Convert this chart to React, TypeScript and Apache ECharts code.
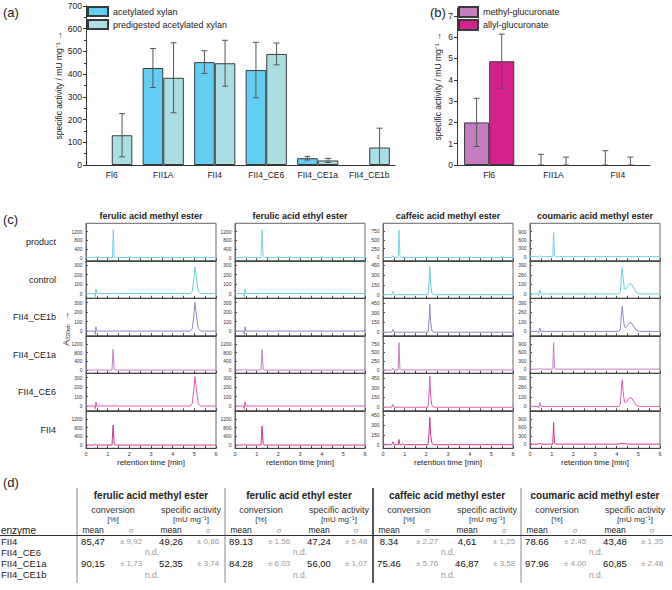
import React, { useEffect, useRef } from 'react';
import * as echarts from 'echarts';

const FONT = '"Liberation Sans", Arial, Helvetica, sans-serif';

// ---------- panel (a) ----------
const xylanEnzymes = ['Fl6', 'FII1A', 'FII4', 'FII4_CE6', 'FII4_CE1a', 'FII4_CE1b'];
const acetylatedXylan = [null, 427, 453, 418, 30, null];
const acetylatedXylanErr = [null, 86, 50, 122, 8, null];
const predigestedXylan = [131, 384, 448, 489, 20, 77];
const predigestedXylanErr = [95, 154, 101, 48, 9, 85];

// ---------- panel (b) ----------
const glucEnzymes = ['Fl6', 'FII1A', 'FII4'];
const methylGlucuronate = [2.0, null, null];
const methylGlucuronateErr = [1.13, 0.5, 0.67];
const allylGlucuronate = [4.87, null, null];
const allylGlucuronateErr = [1.27, 0.37, 0.37];
const glucTicks = [0, 1, 2, 3, 4, 5, 6, 7];

// ---------- panel (c) ----------
const compounds = ['ferulic acid methyl ester', 'ferulic acid ethyl ester', 'caffeic acid methyl ester', 'coumaric acid methyl ester'];
const traceRows = ['product', 'control', 'FII4_CE1b', 'FII4_CE1a', 'FII4_CE6', 'FII4'];
const timeTicks = [0, 1, 2, 3, 4, 5, 6];

const ferulicMethylTraces = [
  [[0, 0], [0.4, 0], [0.45, 30], [0.5, 0], [1.22, 0], [1.26, 1280], [1.3, 60], [1.36, 0], [6, 0]],
  [[0, 0], [0.4, 0], [0.43, -35], [0.46, 45], [0.5, 0], [1.3, 0], [1.32, 8], [1.36, 0], [4.8, 0], [4.9, 20], [4.97, 140], [5.03, 280], [5.1, 150], [5.18, 25], [5.3, 0], [6, 0]],
  [[0, 0], [0.4, 0], [0.43, -35], [0.46, 45], [0.5, 0], [1.3, 0], [1.32, 10], [1.36, 0], [4.8, 0], [4.9, 20], [4.97, 150], [5.03, 300], [5.1, 160], [5.18, 25], [5.3, 0], [6, 0]],
  [[0, 0], [0.4, 0], [0.45, 40], [0.5, 0], [1.2, 0], [1.25, 950], [1.3, 40], [1.36, 0], [6, 0]],
  [[0, 0], [0.4, 0], [0.43, -30], [0.46, 45], [0.5, 0], [1.3, 0], [1.32, 12], [1.36, 0], [4.8, 0], [4.9, 25], [4.97, 160], [5.03, 310], [5.1, 170], [5.18, 25], [5.3, 0], [6, 0]],
  [[0, 0], [0.4, 0], [0.45, 40], [0.5, 0], [1.2, 0], [1.25, 920], [1.3, 40], [1.36, 0], [6, 0]],
];
const ferulicEthylTraces = [
  [[0, 0], [0.4, 0], [0.45, 30], [0.5, 0], [1.2, 0], [1.25, 1280], [1.3, 60], [1.36, 0], [6, 0]],
  [[0, 0], [0.4, 0], [0.43, -35], [0.46, 45], [0.5, 0], [6, 0]],
  [[0, 0], [0.4, 0], [0.43, -35], [0.46, 45], [0.5, 0], [6, 0]],
  [[0, 0], [0.4, 0], [0.45, 30], [0.5, 0], [1.2, 0], [1.25, 940], [1.3, 40], [1.36, 0], [6, 0]],
  [[0, 0], [0.4, 0], [0.43, -35], [0.46, 45], [0.5, 0], [6, 0]],
  [[0, 0], [0.4, 0], [0.45, 30], [0.5, 0], [1.2, 0], [1.25, 880], [1.3, 40], [1.36, 0], [6, 0]],
];
const caffeicTraces = [
  [[0, 0], [0.4, 0], [0.45, 50], [0.5, 0], [0.7, 0], [0.74, 780], [0.78, 40], [0.84, 0], [6, 0]],
  [[0, 0], [0.4, 0], [0.45, 50], [0.5, 0], [2.08, 0], [2.13, 200], [2.16, 430], [2.2, 150], [2.26, 20], [2.35, 0], [6, 0]],
  [[0, 0], [0.4, 0], [0.45, 45], [0.5, 0], [2.08, 0], [2.13, 200], [2.16, 430], [2.2, 150], [2.26, 20], [2.35, 0], [6, 0]],
  [[0, 0], [0.4, 0], [0.45, 50], [0.5, 0], [0.7, 0], [0.74, 780], [0.78, 40], [0.84, 0], [6, 0]],
  [[0, 0], [0.4, 0], [0.45, 45], [0.5, 0], [2.08, 0], [2.13, 220], [2.16, 480], [2.2, 160], [2.26, 20], [2.35, 0], [6, 0]],
  [[0, 0], [0.4, 0], [0.45, 45], [0.5, 0], [0.7, 0], [0.74, 80], [0.78, 0], [0.86, 0], [0.9, 20], [0.95, 0], [2.08, 0], [2.13, 200], [2.16, 420], [2.2, 140], [2.26, 20], [2.35, 0], [6, 0]],
];
const coumaricTraces = [
  [[0, 0], [0.4, 0], [0.45, 40], [0.5, 0], [1.05, 0], [1.09, 880], [1.13, 40], [1.2, 0], [6, 0]],
  [[0, 0], [0.35, 0], [0.4, -25], [0.45, 55], [0.5, 0], [4.1, 0], [4.17, 30], [4.22, 250], [4.26, 360], [4.3, 200], [4.36, 70], [4.42, 60], [4.5, 100], [4.6, 140], [4.7, 130], [4.8, 70], [4.9, 20], [5.05, 0], [6, 0]],
  [[0, 0], [0.35, 0], [0.4, -20], [0.45, 45], [0.5, 0], [4.1, 0], [4.17, 30], [4.22, 240], [4.26, 340], [4.3, 190], [4.36, 60], [4.42, 50], [4.5, 85], [4.6, 120], [4.7, 110], [4.8, 60], [4.9, 15], [5.05, 0], [6, 0]],
  [[0, 0], [0.4, 0], [0.45, 30], [0.5, 0], [1.05, 0], [1.09, 950], [1.13, 40], [1.2, 0], [6, 0]],
  [[0, 0], [0.35, 0], [0.4, -20], [0.45, 50], [0.5, 0], [4.1, 0], [4.17, 30], [4.22, 250], [4.26, 360], [4.3, 200], [4.36, 60], [4.42, 50], [4.5, 85], [4.6, 120], [4.7, 110], [4.8, 60], [4.9, 15], [5.05, 0], [6, 0]],
  [[0, 0], [0.4, 0], [0.45, 40], [0.5, 0], [1.05, 0], [1.09, 780], [1.13, 40], [1.2, 0], [4.1, 0], [4.25, 40], [4.4, 10], [4.6, 0], [6, 0]],
];
const allTraces = [ferulicMethylTraces, ferulicEthylTraces, caffeicTraces, coumaricTraces];

const ferulicTopTicks = [1200, 300, 300, 1200, 300, 1200];
const caffeicTopTicks = [750, 450, 450, 750, 450, 450];
const coumaricTopTicks = [900, 390, 390, 900, 390, 900];
const allTopTicks = [ferulicTopTicks, ferulicTopTicks, caffeicTopTicks, coumaricTopTicks];

const ferulicRanges = [[-150, 1580], [-50, 345], [-50, 345], [-150, 1580], [-50, 345], [-150, 1580]];
const caffeicRanges = [[-95, 975], [-55, 520], [-55, 520], [-95, 975], [-55, 520], [-55, 520]];
const coumaricRanges = [[-150, 1200], [-60, 450], [-60, 450], [-150, 1200], [-60, 450], [-150, 1200]];
const allRanges = [ferulicRanges, ferulicRanges, caffeicRanges, coumaricRanges];

// ---------- panel (d) ----------
const tableEnzymes = ['FII4', 'FII4_CE6', 'FII4_CE1a', 'FII4_CE1b'];
const tableMeasures = ['conversion', 'specific activity'];
const tableUnits = ['[%]', '[mU mg⁻¹]'];
const tableStats = ['mean', 'σ', 'mean', 'σ'];
const fii4Values = ['85,47', '± 9,92', '49,26', '± 0,86', '89.13', '± 1.56', '47,24', '± 5,48', '8.34', '± 2.27', '4,61', '± 1,25', '78.66', '± 2.45', '43,48', '± 1,35'];
const ce1aValues = ['90,15', '± 1,73', '52,35', '± 3,74', '84.28', '± 6.03', '56,00', '± 1,07', '75.46', '± 5.76', '46,87', '± 3,58', '97.96', '± 4.00', '60,85', '± 2,48'];
const tableRowValues = [fii4Values, null, ce1aValues, null];

const rowColors = ['#74d2ec', '#6acfd6', '#8f88c8', '#c67cc6', '#e05ab4', '#d8308e'];

function errorSeries(axisIndex: number, values: any[], errs: any[], offset: number) {
  const data: any[] = [];
  errs.forEach((e, i) => {
    if (e != null) data.push([i, values[i] ?? 0, e]);
  });
  return {
    type: 'custom',
    xAxisIndex: axisIndex,
    yAxisIndex: axisIndex,
    silent: true,
    z: 10,
    encode: { x: 0, y: 1 },
    data,
    renderItem: (params: any, api: any) => {
      const i = api.value(0);
      const v = api.value(1);
      const e = api.value(2);
      const band = api.size([1, 0])[0];
      const cx = api.coord([i, v])[0] + offset * band;
      const yTop = api.coord([i, v + e])[1];
      const yBot = api.coord([i, Math.max(0, v - e)])[1];
      const style = { stroke: '#555', lineWidth: 1 };
      return {
        type: 'group',
        children: [
          { type: 'line', shape: { x1: cx, y1: yTop, x2: cx, y2: yBot }, style },
          { type: 'line', shape: { x1: cx - 3, y1: yTop, x2: cx + 3, y2: yTop }, style },
          { type: 'line', shape: { x1: cx - 3, y1: yBot, x2: cx + 3, y2: yBot }, style },
        ],
      };
    },
  };
}

function txt(x: number, y: number, text: string, size: number, opts: any = {}) {
  return {
    type: 'text',
    x,
    y,
    rotation: opts.rotation || 0,
    silent: true,
    style: {
      text,
      fontSize: size,
      fontFamily: FONT,
      fontWeight: opts.bold ? 'bold' : 'normal',
      fill: opts.color || '#222',
      align: opts.align || 'center',
      textAlign: opts.align || 'center',
      verticalAlign: 'middle',
      textVerticalAlign: 'middle',
    },
  };
}

function buildOption() {
  const grids: any[] = [];
  const xAxes: any[] = [];
  const yAxes: any[] = [];
  const series: any[] = [];
  const graphics: any[] = [];

  // ----- (a)
  grids.push({ left: 86, top: 6, width: 309, height: 159 });
  xAxes.push({
    gridIndex: 0, type: 'category', data: xylanEnzymes,
    axisLine: { lineStyle: { color: '#333', width: 1 } },
    axisTick: { show: false },
    axisLabel: { fontSize: 8.5, fontFamily: FONT, color: '#222', margin: 5, interval: 0 },
  });
  yAxes.push({
    gridIndex: 0, type: 'value', min: 0, max: 700, interval: 100,
    axisLine: { show: true, lineStyle: { color: '#333', width: 1 } },
    axisTick: { show: true, length: 3, lineStyle: { color: '#333' } },
    minorTick: { show: true, splitNumber: 2, length: 2, lineStyle: { color: '#333' } },
    splitLine: { show: false },
    axisLabel: { fontSize: 8.5, fontFamily: FONT, color: '#222', margin: 4 },
    name: 'specific activity / mU mg⁻¹ →', nameLocation: 'middle', nameGap: 23,
    nameTextStyle: { fontSize: 8.5, fontFamily: FONT, color: '#222' },
  });
  series.push({
    name: 'acetylated xylan', type: 'bar', xAxisIndex: 0, yAxisIndex: 0, data: acetylatedXylan,
    barWidth: '40%', barGap: '0%',
    itemStyle: { color: '#63cef4', borderColor: '#3a3a3a', borderWidth: 1 },
  });
  series.push({
    name: 'predigested acetylated xylan', type: 'bar', xAxisIndex: 0, yAxisIndex: 0, data: predigestedXylan,
    barWidth: '40%', barGap: '0%',
    itemStyle: { color: '#abdee2', borderColor: '#3a3a3a', borderWidth: 1 },
  });
  series.push(errorSeries(0, acetylatedXylan, acetylatedXylanErr, -0.2));
  series.push(errorSeries(0, predigestedXylan, predigestedXylanErr, 0.2));

  // ----- (b)
  grids.push({ left: 457, top: 8, width: 193, height: 157 });
  xAxes.push({
    gridIndex: 1, type: 'category', data: glucEnzymes,
    axisLine: { lineStyle: { color: '#333', width: 1 } },
    axisTick: { show: false },
    axisLabel: { fontSize: 8.5, fontFamily: FONT, color: '#222', margin: 5, interval: 0 },
  });
  yAxes.push({
    gridIndex: 1, type: 'value', min: 0, max: 7.37,
    axisLine: { show: true, lineStyle: { color: '#333', width: 1 } },
    axisTick: { show: true, length: 3, lineStyle: { color: '#333' }, customValues: glucTicks },
    splitLine: { show: false },
    axisLabel: { fontSize: 8.5, fontFamily: FONT, color: '#222', margin: 4, customValues: glucTicks },
    name: 'specific activity / mU mg⁻¹ →', nameLocation: 'middle', nameGap: 15,
    nameTextStyle: { fontSize: 8.5, fontFamily: FONT, color: '#222' },
  });
  series.push({
    name: 'methyl-glucuronate', type: 'bar', xAxisIndex: 1, yAxisIndex: 1, data: methylGlucuronate,
    barWidth: '39%', barGap: '0%',
    itemStyle: { color: '#c47dbf', borderColor: '#3a3a3a', borderWidth: 1 },
  });
  series.push({
    name: 'allyl-glucuronate', type: 'bar', xAxisIndex: 1, yAxisIndex: 1, data: allylGlucuronate,
    barWidth: '39%', barGap: '0%',
    itemStyle: { color: '#d3228c', borderColor: '#3a3a3a', borderWidth: 1 },
  });
  series.push(errorSeries(1, methylGlucuronate, methylGlucuronateErr, -0.195));
  series.push(errorSeries(1, allylGlucuronate, allylGlucuronateErr, 0.195));

  // ----- (c)
  const colLefts = [86, 235, 383, 530];
  const colWidth = 130;
  const rowTop = 223.3;
  const rowH = 37.5;
  for (let c = 0; c < 4; c++) {
    for (let r = 0; r < 6; r++) {
      const idx = grids.length;
      grids.push({
        left: colLefts[c], top: rowTop + r * rowH, width: colWidth, height: rowH,
        show: true, borderColor: '#666', borderWidth: 1, backgroundColor: 'transparent',
      });
      const last = r === 5;
      xAxes.push({
        gridIndex: idx, type: 'value', min: 0, max: 6, interval: 0.5,
        axisLine: { show: true, onZero: false, lineStyle: { color: '#444', width: 1 } },
        axisTick: { show: true, inside: true, length: 2.5, lineStyle: { color: '#444' } },
        axisLabel: {
          show: last, fontSize: 5.5, fontFamily: FONT, color: '#333', margin: 2.5,
          customValues: timeTicks, formatter: (v: number) => String(v),
        },
        splitLine: { show: false },
        name: last ? 'retention time [min]' : '', nameLocation: 'middle', nameGap: 10,
        nameTextStyle: { fontSize: 8, fontFamily: FONT, color: '#222' },
      });
      const top = allTopTicks[c][r];
      const yt = [0, top / 3, (2 * top) / 3, top];
      yAxes.push({
        gridIndex: idx, type: 'value', min: allRanges[c][r][0], max: allRanges[c][r][1],
        axisLine: { show: true, onZero: false, lineStyle: { color: '#666', width: 1 } },
        axisTick: { show: true, inside: true, length: 2, lineStyle: { color: '#555' }, customValues: yt },
        axisLabel: {
          fontSize: 5, fontFamily: FONT, color: '#333', margin: 3.5, customValues: yt,
          formatter: (v: number) => String(Math.round(v)),
        },
        splitLine: { show: false },
      });
      series.push({
        type: 'line', xAxisIndex: idx, yAxisIndex: idx, data: allTraces[c][r],
        showSymbol: false, symbol: 'none', silent: true,
        lineStyle: { color: rowColors[r], width: 1 },
      });
    }
    graphics.push(txt(colLefts[c] + colWidth / 2, 216, compounds[c], 9, { bold: true }));
  }
  traceRows.forEach((name, r) => {
    graphics.push(txt(56, 242 + r * rowH, name, 9, { align: 'right' }));
  });
  // A320nm axis label (rotated)
  graphics.push(txt(66, 343, 'A', 8.5, { rotation: Math.PI / 2 }));
  graphics.push(txt(68, 332, '320nm', 5, { rotation: Math.PI / 2 }));
  graphics.push(txt(66, 316, '→', 8.5, { rotation: Math.PI / 2 }));

  // panel letters
  graphics.push(txt(3, 12, '(a)', 13, { align: 'left' }));
  graphics.push(txt(430, 12, '(b)', 13, { align: 'left' }));
  graphics.push(txt(3, 219, '(c)', 13, { align: 'left' }));
  graphics.push(txt(3, 482, '(d)', 13, { align: 'left' }));

  // ----- (d) table
  const groupLeft = [77, 225, 373, 521];
  const subOff = [16, 54, 94, 131];
  const rowYs = [541, 552, 563, 574.5];
  groupLeft.forEach((gx, g) => {
    graphics.push({
      type: 'line', silent: true,
      shape: { x1: gx, y1: 488, x2: gx, y2: 583 },
      style: { stroke: g === 2 ? '#555' : '#888', lineWidth: g === 2 ? 2 : 1 },
    });
    graphics.push(txt(gx + 74, 495, compounds[g], 10, { bold: true }));
    graphics.push(txt(gx + 36, 509.5, tableMeasures[0], 9, { color: '#333' }));
    graphics.push(txt(gx + 36, 519, tableUnits[0], 8, { color: '#333' }));
    graphics.push(txt(gx + 114, 509.5, tableMeasures[1], 9, { color: '#333' }));
    graphics.push(txt(gx + 114, 519, tableUnits[1], 8, { color: '#333' }));
    tableStats.forEach((s, k) => {
      graphics.push(txt(gx + subOff[k], 530, s, s === 'σ' ? 7.5 : 8.5, { color: s === 'σ' ? '#999' : '#222' }));
    });
  });
  graphics.push(txt(1, 530, 'enzyme', 10, { align: 'left' }));
  graphics.push({
    type: 'line', silent: true,
    shape: { x1: 0, y1: 535.5, x2: 672, y2: 535.5 },
    style: { stroke: '#333', lineWidth: 1 },
  });
  tableEnzymes.forEach((enz, e) => {
    const y = rowYs[e];
    graphics.push(txt(1, y, enz, 9.5, { align: 'left' }));
    const vals = tableRowValues[e];
    groupLeft.forEach((gx, g) => {
      if (vals) {
        for (let k = 0; k < 4; k++) {
          const v = vals[g * 4 + k];
          const sigma = k % 2 === 1;
          graphics.push(txt(gx + subOff[k], y, v, sigma ? 8 : 9.5, { color: sigma ? '#9a9a9a' : '#111' }));
        }
      } else {
        graphics.push(txt(gx + 75, y, 'n.d.', 8.5, { color: '#9a9a9a' }));
      }
    });
  });

  return {
    animation: false,
    backgroundColor: '#ffffff',
    textStyle: { fontFamily: FONT },
    grid: grids,
    xAxis: xAxes,
    yAxis: yAxes,
    legend: [
      {
        data: ['acetylated xylan', 'predigested acetylated xylan'],
        left: 87, top: 6, orient: 'vertical', icon: 'rect',
        itemWidth: 20, itemHeight: 9, itemGap: 2, padding: 0, selectedMode: false,
        textStyle: { fontSize: 9, fontFamily: FONT, color: '#222' },
      },
      {
        data: ['methyl-glucuronate', 'allyl-glucuronate'],
        left: 458, top: 6, orient: 'vertical', icon: 'rect',
        itemWidth: 19, itemHeight: 10, itemGap: 1, padding: 0, selectedMode: false,
        textStyle: { fontSize: 9, fontFamily: FONT, color: '#222' },
      },
    ],
    series,
    graphic: graphics,
  };
}

export default function App() {
  const ref = useRef<HTMLDivElement>(null);
  useEffect(() => {
    document.body.style.margin = '0';
    if (!ref.current) return;
    const chart = echarts.init(ref.current, null, { renderer: 'svg' });
    chart.setOption(buildOption() as any);
    return () => chart.dispose();
  }, []);
  return <div ref={ref} style={{ width: 672, height: 590 }} />;
}
